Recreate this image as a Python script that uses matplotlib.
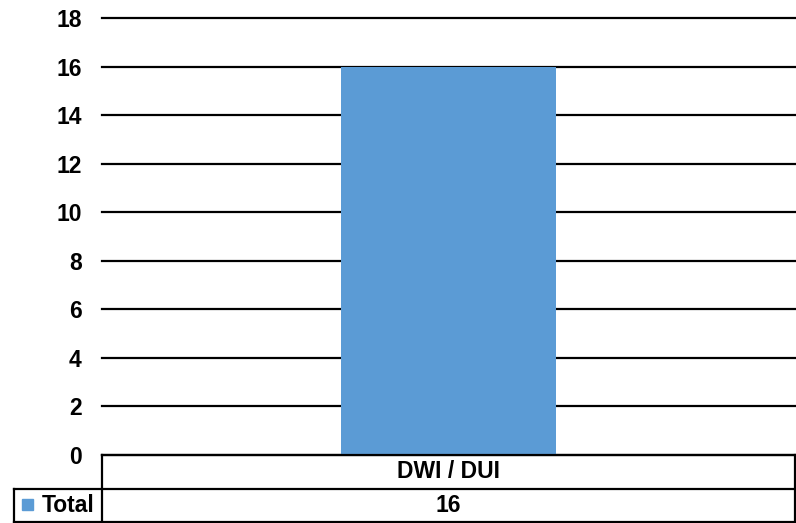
import matplotlib
matplotlib.use("Agg")
import matplotlib.pyplot as plt
from matplotlib.lines import Line2D
from matplotlib.patches import Rectangle

categories = ["DWI / DUI"]
values = [16]
series_name = "Total"
yticks = [0, 2, 4, 6, 8, 10, 12, 14, 16, 18]

W, H = 796, 523
plt.rcParams['font.family'] = ['Liberation Sans', 'DejaVu Sans']
fig = plt.figure(figsize=(W / 100, H / 100), dpi=100)

def fx(px):
    return px / W

def fy(py):
    return 1 - py / H

left, right, top, bottom = 102, 795, 18, 455
ax = fig.add_axes([fx(left), fy(bottom), fx(right) - fx(left), fy(top) - fy(bottom)])
color = "#5B9BD5"
x = list(range(len(categories)))
ax.bar(x, values, width=0.31, color=color, zorder=3)
ax.set_xlim(-0.5, len(categories) - 0.5)
ax.set_ylim(0, 18)
ax.set_yticks(yticks)
ax.set_yticklabels([str(t) for t in yticks], fontsize=16.5, fontweight='bold')
ax.tick_params(axis='y', length=0, pad=14.5)
ax.set_xticks([])
for s in ax.spines.values():
    s.set_visible(False)
ax.yaxis.grid(True, color='black', linewidth=1.6, zorder=0)
for gl in ax.get_ygridlines():
    gl.set_clip_on(False)
ax.set_axisbelow(True)

# data table below the axes
lw = 1.6
row1_top, row1_bot, row2_bot = 455, 489, 522
lab_left = 14
lines = [
    ((left, right), (row1_top, row1_top)),
    ((lab_left, right), (row1_bot, row1_bot)),
    ((lab_left, right), (row2_bot, row2_bot)),
    ((left, left), (row1_top, row2_bot)),
    ((right, right), (row1_top, row2_bot)),
    ((lab_left, lab_left), (row1_bot, row2_bot)),
]
for xs, ys in lines:
    fig.add_artist(Line2D([fx(xs[0]), fx(xs[1])], [fy(ys[0]), fy(ys[1])],
                          color='black', linewidth=lw, solid_capstyle='projecting'))

ncat = len(categories)
cw = (right - left) / ncat
for i, (c, v) in enumerate(zip(categories, values)):
    cx = left + cw * (i + 0.5)
    fig.text(fx(cx), fy((row1_top + row1_bot) / 2), c, ha='center', va='center',
             fontsize=16.5, fontweight='bold')
    fig.text(fx(cx), fy((row1_bot + row2_bot) / 2), str(v), ha='center', va='center',
             fontsize=16.5, fontweight='bold')

fig.add_artist(Rectangle((fx(22), fy(510)), fx(11), fy(499) - fy(510), color=color))
fig.text(fx(42), fy((row1_bot + row2_bot) / 2), series_name, ha='left', va='center',
         fontsize=16.5, fontweight='bold')

fig.savefig("out.png", dpi=100)
